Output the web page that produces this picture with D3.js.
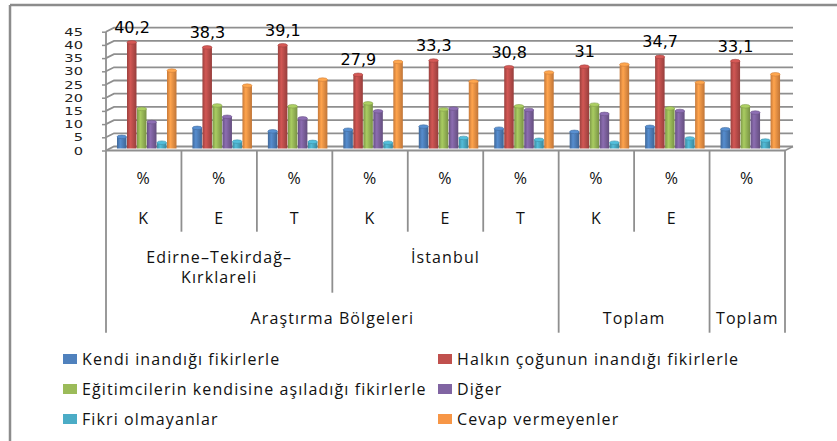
<!DOCTYPE html>
<html>
<head>
<meta charset="utf-8">
<script src="https://cdn.jsdelivr.net/npm/d3@7"></script>
<style>
  body { margin: 0; background: #fff; }
  svg text { font-family: "Open Sans", sans-serif; fill: #111; }
</style>
</head>
<body>
<svg id="chart" width="837" height="441"></svg>
<script>
// data
var units = ["%", "%", "%", "%", "%", "%", "%", "%", "%"];
var sexes = ["K", "E", "T", "K", "E", "T", "K", "E", ""];
var seriesNames = [
  "Kendi inandığı fikirlerle",
  "Halkın çoğunun inandığı fikirlerle",
  "Eğitimcilerin kendisine aşıladığı fikirlerle",
  "Diğer",
  "Fikri olmayanlar",
  "Cevap vermeyenler"
];
var kendi = [4.4, 7.8, 6.5, 7.1, 8.3, 7.5, 6.3, 8.2, 7.3];
var halkin = [40.2, 38.3, 39.1, 27.9, 33.3, 30.8, 31, 34.7, 33.1];
var egitim = [15, 16.3, 16, 17.1, 14.8, 16, 16.6, 15.2, 16];
var diger = [10, 12, 11.4, 14.1, 15.1, 14.6, 13.1, 14.2, 13.6];
var fikri = [2.2, 2.6, 2.5, 2.2, 4.0, 3.3, 2.2, 3.8, 3.0];
var cevap = [29.5, 23.8, 26.1, 32.8, 25.4, 28.8, 31.8, 25, 28.1];
var yTicks = [0, 5, 10, 15, 20, 25, 30, 35, 40, 45];
// grouping rows under the categories
var regions = [
  { from: 0, to: 2, lines: ["Edirne–Tekirdağ–", "Kırklareli"] },
  { from: 3, to: 5, lines: ["İstanbul"] }
];
var bottomGroups = [
  { from: 0, to: 5, label: "Araştırma Bölgeleri" },
  { from: 6, to: 7, label: "Toplam" },
  { from: 8, to: 8, label: "Toplam" }
];

var allSeries = [kendi, halkin, egitim, diger, fikri, cevap];
var colors = ["#4F81BD", "#C0504D", "#9BBB59", "#8064A2", "#4BACC6", "#F79646"];

var svg = d3.select("#chart");
var left = 106, right = 785, depthX = 8, depthY = 4;
var gridColor = "#8f8f8f";

// outer frame (top and left only, like the cropped original)
svg.append("line").attr("x1", 10).attr("x2", 837).attr("y1", 5).attr("y2", 5)
  .attr("stroke", "#8c8c8c").attr("stroke-width", 2.5);
svg.append("line").attr("x1", 10).attr("x2", 10).attr("y1", 5).attr("y2", 441)
  .attr("stroke", "#8c8c8c").attr("stroke-width", 2.5);

var x = d3.scaleBand().domain(d3.range(units.length)).range([left, right]);
var xInner = d3.scaleBand().domain(d3.range(allSeries.length)).range([11, 71]);
var y = d3.scaleLinear().domain([0, 45]).range([150.5, 31.7]);

// back wall gridlines + side wall diagonals
var grid = svg.append("g");
yTicks.forEach(function (t) {
  grid.append("path")
    .attr("d", "M" + left + "," + y(t) + "L" + (left + depthX) + "," + (y(t) - depthY) +
      "L" + (right + depthX) + "," + (y(t) - depthY))
    .attr("fill", "none").attr("stroke", gridColor).attr("stroke-width", 1.8);
});
// floor right diagonal
svg.append("line")
  .attr("x1", right).attr("y1", y(0)).attr("x2", right + depthX).attr("y2", y(0) - depthY)
  .attr("stroke", gridColor).attr("stroke-width", 1.5);

// y axis
var yAxis = svg.append("g")
  .attr("transform", "translate(" + left + ",0)")
  .call(d3.axisLeft(y).tickValues(yTicks).tickSize(4).tickPadding(0));
yAxis.select(".domain").remove();
yAxis.selectAll("line").attr("stroke", gridColor).attr("stroke-width", 1.5);
// labels drawn a bit wide and short so neighbours don't collide
yAxis.selectAll("text")
  .attr("x", null)
  .attr("transform", "translate(-23,0) scale(1.3,1)")
  .style("font-family", "'DejaVu Sans', sans-serif")
  .style("font-size", "11.3px")
  .style("fill", "#222");

// gradients for the cylinder look
var defs = svg.append("defs");
colors.forEach(function (c, i) {
  var g = defs.append("linearGradient").attr("id", "grad" + i)
    .attr("x1", 0).attr("x2", 1).attr("y1", 0).attr("y2", 0);
  g.append("stop").attr("offset", "0%").attr("stop-color", d3.color(c).darker(0.6));
  g.append("stop").attr("offset", "35%").attr("stop-color", d3.color(c).brighter(0.25));
  g.append("stop").attr("offset", "100%").attr("stop-color", d3.color(c).darker(0.7));
});

// bars
var bars = svg.append("g");
allSeries.forEach(function (vals, s) {
  var g = bars.append("g");
  vals.forEach(function (v, i) {
    var bx = x(i) + xInner(s), bw = xInner.bandwidth() - 0.5;
    var top = y(v) - 2, base = y(0) - 2;
    g.append("rect")
      .attr("x", bx).attr("y", top).attr("width", bw).attr("height", base - top)
      .attr("fill", "url(#grad" + s + ")");
    g.append("ellipse")
      .attr("cx", bx + bw / 2).attr("cy", top).attr("rx", bw / 2).attr("ry", 1.8)
      .attr("fill", d3.color(colors[s]).brighter(0.3))
      .attr("stroke", d3.color(colors[s]).darker(0.5)).attr("stroke-width", 0.6);
  });
});

// data labels for the second series
halkin.forEach(function (v, i) {
  svg.append("text")
    .attr("x", x(i) + xInner(1) + xInner.bandwidth() / 2)
    .attr("y", y(v) - 17)
    .attr("dy", "0.35em")
    .attr("text-anchor", "middle")
    .style("font-family", "'DejaVu Sans', sans-serif")
    .style("font-size", "16px")
    .style("fill", "#000")
    .text(String(v).replace(".", ","));
});

// front floor line
svg.append("line").attr("x1", left).attr("x2", right).attr("y1", y(0)).attr("y2", y(0))
  .attr("stroke", gridColor).attr("stroke-width", 1.8);
// left axis line
svg.append("line").attr("x1", left).attr("x2", left).attr("y1", y(45)).attr("y2", y(0))
  .attr("stroke", gridColor).attr("stroke-width", 1.8);

// category table lines
var rowEnd = 231.7, regionEnd = 292.7, tableEnd = 332.7;
d3.range(units.length + 1).forEach(function (k) {
  var xe = k === units.length ? right : x(k);
  var end = rowEnd;
  if (k === 0 || k === units.length || k === 6 || k === 8) end = tableEnd;
  else if (k === 3) end = regionEnd;
  svg.append("line").attr("x1", xe).attr("x2", xe).attr("y1", y(0)).attr("y2", end)
    .attr("stroke", gridColor).attr("stroke-width", 1.8);
});

var labelStyle = function (sel) {
  sel.attr("text-anchor", "middle").attr("dy", "0.35em")
    .style("font-size", "16px").style("letter-spacing", "1.1px");
};

units.forEach(function (u, i) {
  svg.append("text").attr("x", x(i) + x.bandwidth() / 2).attr("y", 178).call(labelStyle).text(u);
  svg.append("text").attr("x", x(i) + x.bandwidth() / 2).attr("y", 218).call(labelStyle).text(sexes[i]);
});

regions.forEach(function (r) {
  var cx = (x(r.from) + x(r.to) + x.bandwidth()) / 2;
  r.lines.forEach(function (line, j) {
    svg.append("text").attr("x", cx).attr("y", 257 + j * 20).call(labelStyle).text(line);
  });
});

bottomGroups.forEach(function (b) {
  var cx = (x(b.from) + x(b.to) + x.bandwidth()) / 2;
  svg.append("text").attr("x", cx).attr("y", 318).call(labelStyle).text(b.label);
});

// legend
var legend = svg.append("g");
seriesNames.forEach(function (name, i) {
  var col = i % 2, row = Math.floor(i / 2);
  var lx = col === 0 ? 63 : 438, ly = 359 + row * 30;
  legend.append("rect").attr("x", lx).attr("y", ly - 5).attr("width", 14).attr("height", 10)
    .attr("fill", colors[i]);
  legend.append("text").attr("x", lx + 19).attr("y", ly).attr("dy", "0.35em")
    .style("font-size", "16px").style("letter-spacing", "1.1px").text(name);
});
</script>
</body>
</html>
